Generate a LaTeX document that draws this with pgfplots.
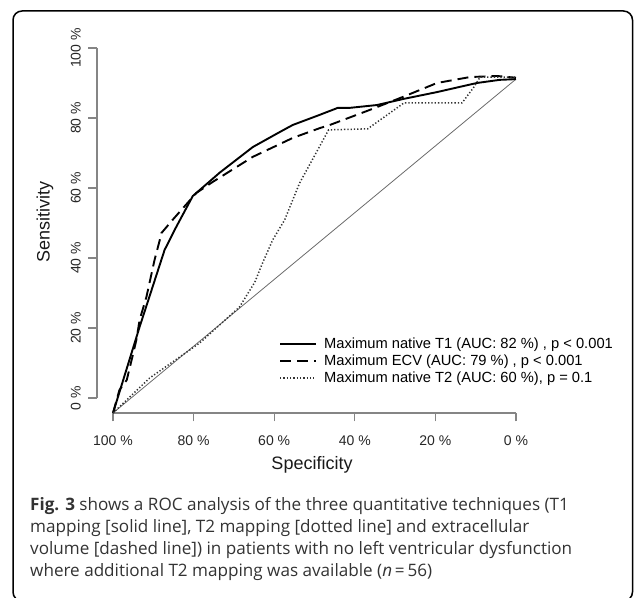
\documentclass[border=0pt]{standalone}
\usepackage{fontspec}
\setmainfont{Liberation Sans}
\newfontfamily\capfont{Open Sans}
\usepackage{pgfplots}
\pgfplotsset{compat=1.18}

\definecolor{axgray}{HTML}{858585}
\definecolor{diaggray}{HTML}{6A6A6A}
\definecolor{captext}{HTML}{333333}

% ROC curves, specificity (%) vs sensitivity (%)
\pgfplotstableread{
spec sens
100 -4.3
93.4 20.3
87.2 42.3
84.3 48.9
80.2 57.7
73.5 64.4
65.3 71.7
58.6 76.0
55.4 78.0
48.7 80.9
44.2 82.9
41.2 82.9
34.5 83.7
28.1 85.4
19.6 87.4
13.9 88.9
9.7 90.0
4.0 90.9
0 91.1
}\tone

\pgfplotstableread{
spec sens
100 -4.3
98.4 2.3
96.6 5.1
95.2 11.7
94.2 16.6
93.4 22.3
91.7 28.9
89.7 39.4
88.4 45.1
88.0 47.1
85.2 50.9
79.3 58.6
75.3 61.7
65.3 68.9
55.4 74.3
48.7 77.1
46.2 78.0
36.3 82.3
28.1 86.0
19.6 90.0
11.4 91.7
4.7 92.0
0 91.5
}\ecv

\pgfplotstableread{
spec sens
100 -4.3
90.9 5.7
78.5 15.7
68.6 26.0
64.8 33.1
63.1 38.0
60.4 45.1
57.4 50.9
53.7 61.4
49.2 70.9
46.5 76.6
36.8 76.9
27.8 84.3
13.4 84.3
10.4 88.9
8.9 91.7
0 91.7
}\ttwo

\begin{document}
\begin{tikzpicture}
\useasboundingbox (0pt,0pt) rectangle (634pt,597pt);
\begin{scope}
\clip (0pt,0pt) rectangle (634pt,597pt);
\draw[line width=1.5pt, rounded corners=9pt] (13pt,-4pt) rectangle (632.5pt,586pt);
\end{scope}

\begin{axis}[
  at={(96.9pt,184pt)}, anchor=south west,
  width=435.2pt, height=379pt, scale only axis,
  x dir=reverse,
  xmin=-4, xmax=104, ymin=-4.3, ymax=104,
  axis x line*=bottom, axis y line*=left,
  axis line style={draw=none},
  xtick={0,20,40,60,80,100},
  xticklabels={0 \%,20 \%,40 \%,60 \%,80 \%,100 \%},
  ytick={0,20,40,60,80,100},
  yticklabels={0 \%,20 \%,40 \%,60 \%,80 \%,100 \%},
  tick align=outside, major tick length=8.5pt,
  tick style={axgray, line width=1.2pt},
  ticklabel style={font=\fontsize{14}{16}\selectfont, text=black!85},
  xticklabel style={yshift=-11pt},
  yticklabel style={rotate=90, anchor=south, yshift=4pt},
  xlabel={Specificity},
  ylabel={Sensitivity},
  label style={font=\fontsize{18}{20}\selectfont, text=black!90},
  xlabel style={at={(axis description cs:0.4943,-0.1372)}, anchor=center},
  ylabel style={at={(axis description cs:-0.1193,0.504)}, anchor=center},
  legend style={at={(axis description cs:0.4184,0.2005)}, anchor=north west,
    draw=none, fill=none, inner sep=0pt, row sep=3pt,
    font=\fontsize{14.7}{16}\selectfont,
    nodes={inner sep=0pt, text height=11pt, text depth=3pt}},
  legend cell align=left,
  legend image code/.code={\draw[#1] (0pt,0pt) -- (36pt,0pt); \path (43pt,0pt);},
  clip=false,
]
\draw[axgray, line width=1.3pt] (axis cs:100,-4.3) -- (axis cs:0,-4.3);
\draw[axgray, line width=1.3pt] (axis cs:104,0) -- (axis cs:104,100);

\addplot[diaggray, line width=0.8pt, forget plot] coordinates {(100,-4.3) (0,91.1)};
\addplot[black, line width=1.9pt, line join=round] table[x=spec, y=sens] {\tone};
\addlegendentry{Maximum native T1 (AUC: 82 \%) , p < 0.001}
\addplot[black, line width=1.9pt, dash pattern=on 11pt off 6pt] table[x=spec, y=sens] {\ecv};
\addlegendentry{Maximum ECV (AUC: 79 \%) , p < 0.001}
\addplot[black!80, line width=1.5pt, dash pattern=on 1.3pt off 2pt] table[x=spec, y=sens] {\ttwo};
\addlegendentry{Maximum native T2 (AUC: 60 \%), p = 0.1}
\end{axis}

\begin{scope}[every node/.style={anchor=base west, inner sep=0pt, text=captext, font=\capfont\fontsize{17.1}{20}\selectfont}]
\node at (30pt,87pt) {\textbf{Fig. 3} shows a ROC analysis of the three quantitative techniques (T1};
\node at (30pt,65pt) {mapping [solid line], T2 mapping [dotted line] and extracellular};
\node at (30pt,43pt) {volume [dashed line]) in patients with no left ventricular dysfunction};
\node at (30pt,20.5pt) {where additional T2 mapping was available (\textit{n}\,=\,56)};
\end{scope}
\end{tikzpicture}
\end{document}
